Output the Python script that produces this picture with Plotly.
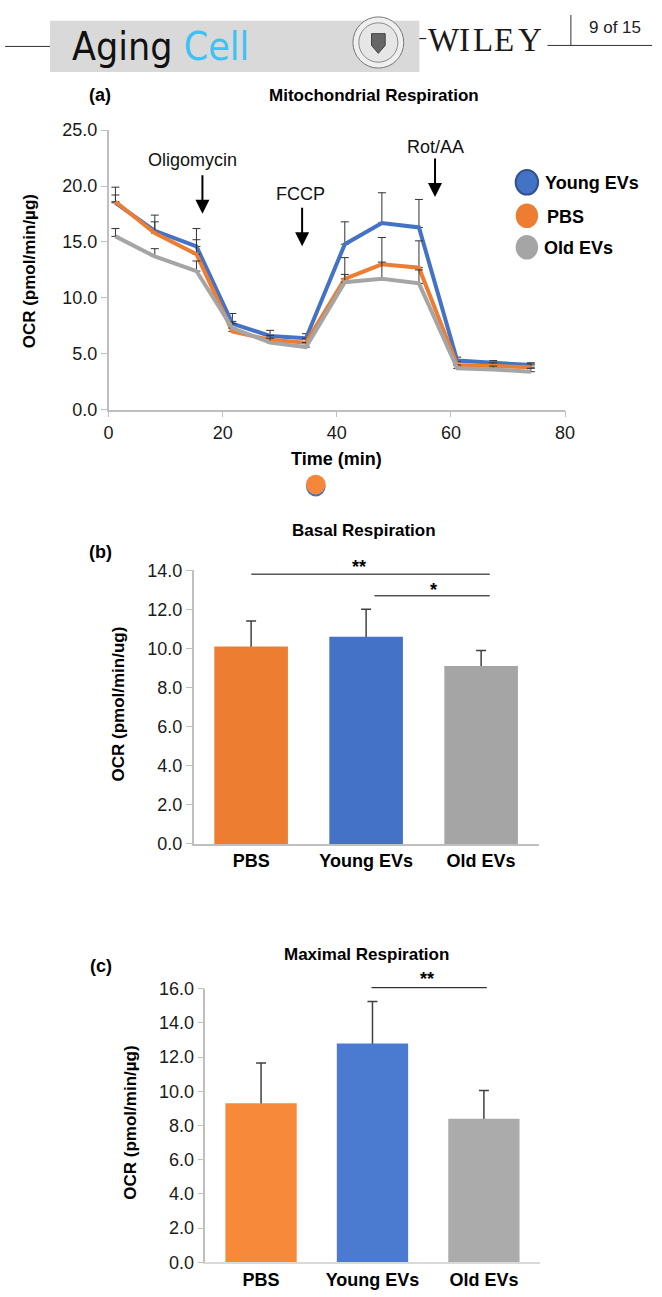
import plotly.graph_objects as go

W, H = 662, 1297
def X(p): return p / W
def Y(p): return 1 - p / H

# ---------------- data ----------------
time_min = [1.2, 8.1, 15.4, 21.7, 28.3, 34.6, 41.4, 47.9, 54.4, 61.1, 67.4, 74.0]
young_ocr = [18.5, 16.0, 14.6, 7.7, 6.6, 6.4, 14.8, 16.7, 16.3, 4.4, 4.2, 4.0]
young_err = [1.4, 1.4, 1.6, 0.9, 0.5, 0.4, 2.0, 2.7, 2.5, 0.3, 0.2, 0.2]
pbs_ocr = [18.6, 15.8, 13.9, 7.0, 6.25, 6.0, 11.7, 13.0, 12.7, 4.0, 3.9, 3.8]
pbs_err = [0.6, 1.0, 1.3, 0.7, 0.4, 0.4, 1.9, 2.4, 2.4, 0.3, 0.3, 0.3]
old_ocr = [15.5, 13.7, 12.4, 7.3, 6.0, 5.6, 11.4, 11.7, 11.3, 3.7, 3.6, 3.4]
old_err = [0.7, 0.7, 0.9, 0.6, 0.4, 0.4, 0.7, 1.5, 1.2, 0.3, 0.3, 0.3]

groups = ["PBS", "Young EVs", "Old EVs"]
basal_ocr = [10.1, 10.6, 9.1]
basal_err = [1.3, 1.4, 0.8]
maximal_ocr = [9.3, 12.8, 8.4]
maximal_err = [2.35, 2.45, 1.65]

x_ticks_a = [0, 20, 40, 60, 80]

# ---------------- styles ----------------
BLUE, ORANGE, GRAY = "#4472C4", "#ED7D31", "#A5A5A5"
FONT = "Liberation Sans, Arial, sans-serif"
TXT = "#1a1a1a"
AXC = "#BFBFBF"

fig = go.Figure()

def err(a, col="#333333", thick=1, width=4, minus=None):
    return dict(type="data", array=a, arrayminus=minus if minus is not None else [0] * len(a),
                symmetric=False, color=col, thickness=thick, width=width, visible=True)

for name, ys, es, col in [("Young EVs", young_ocr, young_err, BLUE),
                          ("PBS", pbs_ocr, pbs_err, ORANGE),
                          ("Old EVs", old_ocr, old_err, GRAY)]:
    fig.add_trace(go.Scatter(x=time_min, y=ys, mode="lines", name=name,
                             line=dict(color=col, width=4),
                             error_y=err(es), xaxis="x", yaxis="y", showlegend=False))

bar_cols_b = [ORANGE, BLUE, GRAY]
bar_cols_c = ["#F7893A", "#4A7BD0", "#ABABAB"]
for vals, errs, cols, xa, ya in [(basal_ocr, basal_err, bar_cols_b, "x2", "y2"),
                                 (maximal_ocr, maximal_err, bar_cols_c, "x3", "y3")]:
    # error bars first; the coloured bars drawn on top hide the part inside the bar
    fig.add_trace(go.Bar(x=groups, y=vals, marker=dict(color="rgba(0,0,0,0)", line=dict(width=0)),
                         error_y=err(errs, "#404040", 1.5, 5, minus=vals), xaxis=xa, yaxis=ya,
                         showlegend=False, hoverinfo="skip"))
    fig.add_trace(go.Bar(x=groups, y=vals, marker=dict(color=cols, line=dict(width=0)),
                         xaxis=xa, yaxis=ya, showlegend=False))

tickfont = dict(family=FONT, size=18, color=TXT)
common_y = dict(showline=True, linecolor=AXC, linewidth=1.5, ticks="outside", ticklen=6,
                tickcolor=AXC, showgrid=False, zeroline=False, tickformat=".1f",
                tickfont=tickfont)

fig.update_layout(
    width=W, height=H, margin=dict(l=0, r=0, t=0, b=0), autosize=False,
    plot_bgcolor="white", paper_bgcolor="white", bargap=0.36, barmode="overlay",
    xaxis=dict(domain=[X(106), X(573)], range=[0, 80], tickvals=x_ticks_a,
               showline=True, linecolor=AXC, linewidth=1.5, ticks="outside", ticklen=6,
               tickcolor=AXC, showgrid=False, zeroline=False, tickfont=tickfont,
               anchor="y"),
    yaxis=dict(domain=[Y(406), Y(122)], range=[0, 25], dtick=5, anchor="x", **common_y),
    xaxis2=dict(domain=[X(193), X(546)], range=[-0.5, 2.5], showline=True, linecolor=AXC,
                linewidth=1.5, ticks="", showgrid=False, zeroline=False, anchor="y2",
                tickfont=dict(family=FONT, size=18, color="#000", weight="bold")),
    yaxis2=dict(domain=[Y(847), Y(569)], range=[0, 14], dtick=2, anchor="x2", **common_y),
    xaxis3=dict(domain=[X(205), X(547)], range=[-0.5, 2.5], showline=True, linecolor="#D9D9D9",
                linewidth=1.5, ticks="", showgrid=False, zeroline=False, anchor="y3",
                tickfont=dict(family=FONT, size=18, color="#000", weight="bold")),
    yaxis3=dict(domain=[Y(1272), Y(994)], range=[0, 16], dtick=2, anchor="x3", **common_y),
)

shapes = []
ann = []

def text(x, y, s, size=18, bold=False, color=TXT, xanchor="center", family=FONT, angle=0):
    ann.append(dict(x=X(x), y=Y(y), xref="paper", yref="paper", text=s, showarrow=False,
                    xanchor=xanchor, yanchor="middle", textangle=angle,
                    font=dict(family=family, size=size, color=color,
                              weight="bold" if bold else "normal")))

def line(x0, y0, x1, y1, color="#000", width=1):
    shapes.append(dict(type="line", xref="paper", yref="paper", x0=X(x0), y0=Y(y0),
                       x1=X(x1), y1=Y(y1), line=dict(color=color, width=width)))

def circle(cx, cy, rx, ry, fill, lc=None, lw=0):
    shapes.append(dict(type="circle", xref="paper", yref="paper", x0=X(cx - rx), x1=X(cx + rx),
                       y0=Y(cy + ry), y1=Y(cy - ry), fillcolor=fill,
                       line=dict(color=lc or fill, width=lw)))

# ---------- header ----------
shapes.append(dict(type="rect", xref="paper", yref="paper", x0=X(46), x1=X(424), y0=Y(63),
                   y1=Y(11), fillcolor="#D9D9D9", line=dict(width=0), layer="below"))
line(0, 37, 46, 37, "#333", 1)
text(66, 37, "Aging <span style='color:#3EC1F3'>Cell</span>", size=39, color="#111",
     xanchor="left", family="Liberation Sans Narrow, DejaVu Sans Condensed, sans-serif")
circle(382, 33, 26, 26, "#EFEFEF", "#777", 1)
circle(382, 33, 20, 20, "#E6E6E6", "#888", 1)
shapes.append(dict(type="path", xref="paper", yref="paper",
                   path=f"M {X(375)} {Y(24)} L {X(389)} {Y(24)} L {X(389)} {Y(36)} L {X(382)} {Y(44)} L {X(375)} {Y(36)} Z",
                   fillcolor="#666", line=dict(color="#444", width=1)))
line(424, 29, 431, 29, "#222", 1.2)
for ch, cx in zip("WILEY", [449, 470, 489, 511, 537]):
    text(cx, 30, ch, size=33, color="#1a1a1a", family="Liberation Serif, serif")
line(555, 36, 662, 36, "#333", 1)
line(579, 5, 579, 36, "#333", 1)
text(624, 18, "9 of 15", size=17, color="#222")

# ---------- panel a ----------
text(97, 86, "(a)", size=18, bold=True, color="#000")
text(378, 87, "Mitochondrial Respiration", size=17, bold=True, color="#000")
text(26, 265, "OCR (pmol/min/µg)", size=17, bold=True, color="#000", angle=-90)
text(339, 456, "Time (min)", size=18, bold=True, color="#000")
for lbl, tx, ty, ax_x, tip_top, tip in [("Oligomycin", 192, 152, 202, 167, 207),
                                        ("FCCP", 302, 187, 304, 200, 240),
                                        ("Rot/AA", 440, 139, 440, 150, 190)]:
    text(tx, ty, lbl, size=18, color="#111")
    ann.append(dict(x=X(ax_x), y=Y(tip), xref="paper", yref="paper", ax=0, ay=-(tip - tip_top),
                    axref="pixel", ayref="pixel", text="", showarrow=True, arrowhead=2,
                    arrowsize=1.4, arrowwidth=2, arrowcolor="#000"))
# legend
for name, col, cy, tx in [("Young EVs", BLUE, 175, 550), ("PBS", ORANGE, 209, 553),
                          ("Old EVs", GRAY, 241, 549)]:
    circle(534, cy, 11.5, 12.5, col, "#2F528F" if col == BLUE else col, 2 if col == BLUE else 0)
    text(tx, cy + 1, name, size=18, bold=True, color="#000", xanchor="left")
circle(318, 484, 10, 10, BLUE)
circle(318, 482, 10, 10, "#F5873A")

# ---------- panel b ----------
text(98, 550, "(b)", size=18, bold=True, color="#000")
text(367, 529, "Basal Respiration", size=17, bold=True, color="#000")
text(116, 705, "OCR (pmol/min/ug)", size=17, bold=True, color="#000", angle=-90)
line(252, 573, 496, 573, "#000", 1)
text(362, 566, "**", size=18, bold=True, color="#000")
line(378, 595, 496, 595, "#000", 1)
text(438, 589, "*", size=18, bold=True, color="#000")

# ---------- panel c ----------
text(98, 971, "(c)", size=18, bold=True, color="#000")
text(370, 959, "Maximal Respiration", size=17, bold=True, color="#000")
text(128, 1130, "OCR (pmol/min/µg)", size=17, bold=True, color="#000", angle=-90)
line(375, 993, 493, 993, "#000", 1)
text(432, 984, "**", size=18, bold=True, color="#000")

fig.update_layout(shapes=shapes, annotations=ann)
fig.write_html("out.html")
